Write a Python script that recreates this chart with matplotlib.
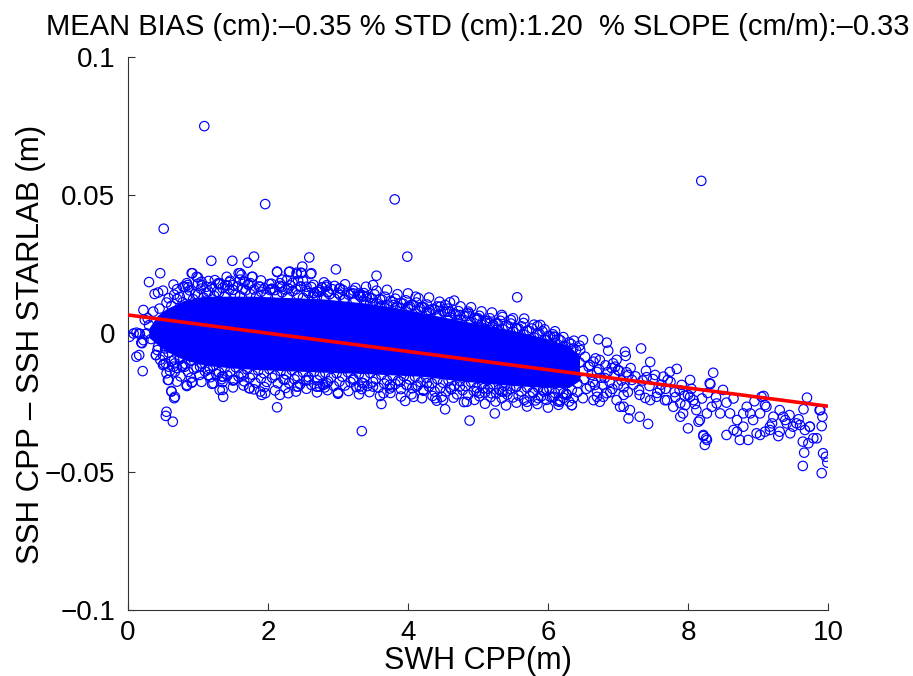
import matplotlib
matplotlib.use("Agg")
import matplotlib.pyplot as plt
import numpy as np

# ---------------- data (x: SWH in m, y: SSH difference in mm) ----------------
# envelope of the saturated (fully overlapping) core of the point cloud
core_x   = [0.30, 0.42, 0.55, 0.80, 1.10, 1.50, 1.80, 2.30, 2.80, 3.40, 3.80, 4.20, 4.70, 5.10, 5.60, 6.00, 6.30, 6.45]
core_top = [2.0, 6.5, 9.0, 12.0, 13.5, 13.5, 13.5, 13.0, 12.5, 11.0, 9.5, 7.5, 5.0, 3.0, 0.5, -2.0, -4.5, -8.0]
core_bot = [-1.5, -4.0, -6.5, -9.5, -11.5, -12.5, -13.0, -13.5, -14.0, -14.5, -15.0, -15.5, -17.0, -18.0, -19.0, -19.5, -19.5, -17.0]

# points along the upper rim of the core
rimu_x = [0.45, 0.55, 0.62, 0.70, 0.78, 0.85, 0.93, 1.00, 1.08, 1.15, 1.23, 1.30, 1.38, 1.45, 1.53, 1.60,
          1.68, 1.75, 1.83, 1.90, 1.98, 2.05, 2.13, 2.20, 2.28, 2.35, 2.43, 2.50, 2.58, 2.65, 2.73, 2.80,
          2.88, 2.95, 3.03, 3.10, 3.18, 3.25, 3.33, 3.40, 3.48, 3.55, 3.63, 3.70, 3.78, 3.85, 3.93, 4.00,
          4.08, 4.15, 4.23, 4.30, 4.38, 4.45, 4.53, 4.60, 4.68, 4.75, 4.83, 4.90, 4.98, 5.05, 5.13, 5.20,
          5.28, 5.35, 5.43, 5.50, 5.58, 5.65, 5.73, 5.80, 5.88, 5.95, 6.03, 6.10, 6.18, 6.25, 6.33, 6.40]
rimu_y = [9.0, 11.2, 10.0, 12.5, 11.3, 13.8, 12.4, 14.0, 13.0, 15.2, 13.6, 14.8, 13.4, 15.9, 14.1, 13.5,
          15.6, 14.2, 13.3, 15.1, 14.0, 16.0, 13.6, 14.9, 13.2, 15.3, 14.0, 12.9, 14.6, 13.4, 15.0, 12.8,
          14.2, 12.6, 13.9, 12.4, 14.5, 12.0, 13.1, 11.5, 12.7, 10.9, 12.2, 10.3, 11.4, 9.6, 10.8, 9.0,
          10.2, 8.1, 9.4, 7.5, 8.6, 6.7, 7.8, 5.9, 6.8, 5.0, 6.2, 4.1, 5.3, 3.2, 4.4, 2.4,
          3.5, 1.6, 2.5, 0.7, 1.8, -0.4, 0.9, -1.4, -0.2, -2.3, -1.0, -3.5, -2.5, -4.8, -3.8, -6.0]

# second, looser row above the upper rim
rimu2_x = [0.58, 0.66, 0.74, 0.88, 0.96, 1.04, 1.12, 1.20, 1.27, 1.35, 1.42, 1.50, 1.57, 1.64, 1.72, 1.80,
           1.87, 1.95, 2.02, 2.10, 2.17, 2.25, 2.32, 2.40, 2.47, 2.55, 2.62, 2.70, 2.77, 2.85, 2.92, 3.00,
           3.07, 3.15, 3.22, 3.30, 3.37, 3.45, 3.52, 3.60, 3.67, 3.75, 3.82, 3.90, 3.97, 4.05, 4.12, 4.20,
           4.27, 4.35, 4.42, 4.50, 4.57, 4.65, 4.72, 4.80, 4.87, 4.95, 5.02, 5.10, 5.17, 5.25, 5.32, 5.40,
           5.47, 5.55, 5.62, 5.70, 5.77, 5.85, 5.92, 6.00, 6.07, 6.15, 6.22, 6.30, 6.37, 6.45]
rimu2_y = [12.8, 14.0, 13.2, 15.6, 14.3, 16.2, 14.8, 16.9, 15.1, 16.4, 17.3, 15.8, 17.0, 16.1, 17.6, 15.9,
           17.0, 16.3, 17.9, 15.7, 17.2, 15.9, 17.4, 16.0, 17.0, 15.4, 16.8, 15.2, 16.6, 14.9, 16.0, 14.6,
           15.7, 14.1, 15.5, 13.8, 14.6, 13.0, 14.2, 12.4, 13.3, 11.8, 12.6, 11.0, 12.0, 10.4, 11.2, 9.6,
           10.5, 8.8, 9.8, 8.0, 9.0, 7.2, 8.1, 6.3, 7.2, 5.6, 6.4, 4.6, 5.5, 3.8, 4.6, 2.9,
           3.6, 2.0, 2.6, 1.0, 1.8, 0.1, 0.8, -0.9, -0.3, -2.0, -1.3, -3.2, -2.6, -4.4]

# third, sparse row above the core
rimu3_x = [0.70, 0.85, 1.00, 1.15, 1.30, 1.45, 1.60, 1.75, 1.90, 2.05, 2.20, 2.35, 2.50, 2.65, 2.80, 2.95,
           3.10, 3.25, 3.40, 3.55, 3.70, 3.85, 4.00, 4.15, 4.30, 4.45, 4.60, 4.75, 4.90, 5.05, 5.20, 5.35,
           5.50, 5.65, 5.80, 5.95, 6.10]
rimu3_y = [16.0, 17.5, 18.0, 19.0, 17.8, 18.6, 19.5, 18.2, 19.2, 18.0, 19.5, 18.3, 19.0, 17.6, 18.5, 17.2,
           17.8, 16.5, 16.9, 15.5, 15.8, 14.2, 14.5, 12.8, 13.0, 11.5, 11.3, 9.8, 9.5, 8.0, 7.6, 6.0,
           5.5, 3.8, 3.2, 1.5, 0.8]

# points along the lower rim of the core
riml_x = [0.42, 0.50, 0.58, 0.66, 0.74, 0.82, 0.90, 0.98, 1.06, 1.14, 1.22, 1.30, 1.38, 1.46, 1.54, 1.62,
          1.70, 1.78, 1.86, 1.94, 2.02, 2.10, 2.18, 2.26, 2.34, 2.42, 2.50, 2.58, 2.66, 2.74, 2.82, 2.90,
          2.98, 3.06, 3.14, 3.22, 3.30, 3.38, 3.46, 3.54, 3.62, 3.70, 3.78, 3.86, 3.94, 4.02, 4.10, 4.18,
          4.26, 4.34, 4.42, 4.50, 4.58, 4.66, 4.74, 4.82, 4.90, 4.98, 5.06, 5.14, 5.22, 5.30, 5.38, 5.46,
          5.54, 5.62, 5.70, 5.78, 5.86, 5.94, 6.02, 6.10, 6.18, 6.26, 6.34, 6.42]
riml_y = [-6.0, -7.8, -6.9, -9.5, -8.6, -11.0, -9.9, -12.4, -11.0, -13.1, -11.8, -14.0, -12.5, -13.8, -12.2, -14.6,
          -13.0, -15.0, -13.4, -14.4, -12.9, -15.2, -13.6, -14.8, -13.2, -15.5, -14.0, -15.8, -13.8, -15.0, -14.2, -16.0,
          -14.4, -15.6, -14.0, -16.3, -14.6, -15.8, -14.3, -16.5, -15.0, -16.9, -15.2, -17.0, -15.4, -16.6, -15.6, -17.6,
          -16.0, -18.0, -16.5, -17.8, -17.0, -18.9, -17.2, -19.0, -17.6, -19.6, -18.2, -20.0, -18.5, -20.3, -18.9, -20.0,
          -19.2, -21.0, -19.5, -21.2, -19.6, -21.0, -20.0, -21.5, -20.2, -21.8, -20.4, -21.2]

# second, looser row below the lower rim
riml2_x = [0.46, 0.54, 0.62, 0.70, 0.78, 0.86, 0.94, 1.02, 1.10, 1.18, 1.26, 1.34, 1.42, 1.50, 1.58, 1.66,
           1.74, 1.82, 1.90, 1.98, 2.06, 2.14, 2.22, 2.30, 2.38, 2.46, 2.54, 2.62, 2.70, 2.78, 2.86, 2.94,
           3.02, 3.10, 3.18, 3.26, 3.34, 3.42, 3.50, 3.58, 3.66, 3.74, 3.82, 3.90, 3.98, 4.06, 4.14, 4.22,
           4.30, 4.38, 4.46, 4.54, 4.62, 4.70, 4.78, 4.86, 4.94, 5.02, 5.10, 5.18, 5.26, 5.34, 5.42, 5.50,
           5.58, 5.66, 5.74, 5.82, 5.90, 5.98, 6.06, 6.14, 6.22, 6.30]
riml2_y = [-9.5, -10.8, -10.0, -12.5, -11.6, -13.9, -12.8, -15.0, -13.7, -15.8, -14.6, -16.5, -15.2, -17.0, -15.6, -17.3,
           -16.0, -17.8, -16.2, -17.5, -16.0, -18.0, -16.5, -17.9, -16.6, -18.4, -17.0, -18.6, -16.9, -18.2, -17.3, -19.0,
           -17.4, -18.8, -17.6, -19.3, -17.8, -19.0, -17.5, -19.6, -18.1, -19.9, -18.3, -20.1, -18.6, -19.8, -18.8, -20.7,
           -19.2, -21.0, -19.8, -21.0, -20.2, -22.0, -20.5, -22.2, -20.8, -22.7, -21.4, -23.0, -21.7, -23.4, -22.1, -23.1,
           -22.4, -24.0, -22.7, -24.2, -22.8, -24.0, -23.1, -24.5, -23.3, -24.6]

# third, sparse row below the core
riml3_x = [0.60, 0.75, 0.90, 1.05, 1.20, 1.35, 1.50, 1.65, 1.80, 1.95, 2.10, 2.25, 2.40, 2.55, 2.70, 2.85,
           3.00, 3.15, 3.30, 3.45, 3.60, 3.75, 3.90, 4.05, 4.20, 4.35, 4.50, 4.65, 4.80, 4.95, 5.10, 5.25,
           5.40, 5.55, 5.70, 5.85, 6.00, 6.15]
riml3_y = [-13.5, -15.5, -16.0, -17.5, -18.2, -17.6, -19.5, -18.8, -20.2, -19.4, -20.6, -19.7, -21.0, -20.0, -21.3, -20.5,
           -21.8, -20.8, -22.0, -21.2, -22.6, -21.5, -22.8, -22.0, -23.4, -22.6, -24.0, -23.2, -24.8, -24.0, -25.4, -24.6,
           -26.0, -25.0, -26.4, -25.5, -26.8, -25.8]

# low-wave-height end of the cloud
left_x = [0.02, 0.08, 0.16, 0.27, 0.22, 0.20, 0.22, 0.36, 0.24, 0.12, 0.16, 0.40, 0.21, 0.12, 0.17, 0.25,
          0.19, 0.43, 0.53, 0.30, 0.33, 0.28]
left_y = [-1.2, 0.0, 0.0, 0.0, -2.4, -3.5, 8.5, 7.9, 4.9, -8.4, -7.8, -7.8, -13.6, 0.3, -0.2, -0.2,
          -3.3, -4.8, -5.4, 3.0, -2.0, 5.5]

# scattered points above the core
up_x = [1.09, 1.96, 0.51, 3.81, 8.19, 1.19, 1.49, 1.80, 1.71, 2.59, 0.46, 0.30, 0.65, 0.92, 1.00, 0.38,
        0.43, 0.50, 1.24, 1.58, 1.62, 1.78, 1.46, 1.65, 1.72, 2.13, 2.30, 2.41, 2.49, 2.47, 2.61, 2.43,
        2.46, 0.81, 0.86, 1.06, 1.29, 1.39, 2.05, 2.20, 2.29, 2.66, 2.77, 2.97, 3.99, 3.55, 3.50, 2.83,
        3.02, 2.86, 3.29, 3.36, 4.11, 4.53, 4.66, 5.56, 2.65, 2.70, 3.08, 3.50, 3.62, 3.84, 4.03, 4.20,
        5.34, 5.47, 5.66, 5.55, 5.85, 4.84, 4.98, 4.70, 4.56, 4.41, 4.31, 5.17, 5.27, 5.08,
        0.79, 0.84, 0.91, 0.98, 1.05, 1.12, 1.31, 1.41, 1.50, 1.60, 1.67, 1.77, 1.89, 2.03, 2.17, 2.27,
        2.55, 2.74, 2.84, 3.03, 3.22, 3.31, 3.41, 3.46, 3.60, 3.79, 3.89, 4.00, 4.17, 4.27, 4.46, 4.60,
        4.74, 4.86, 5.00, 5.12, 5.22, 2.31, 2.41, 2.48, 2.62, 2.13]
up_y = [75.0, 46.8, 37.9, 48.5, 55.2, 26.3, 26.3, 27.8, 25.6, 27.5, 21.8, 18.6, 17.7, 21.8, 20.3, 14.3,
        14.8, 15.5, 19.3, 21.8, 21.2, 20.5, 19.1, 18.7, 17.9, 22.2, 22.2, 21.5, 24.2, 22.0, 21.5, 19.1,
        16.9, 16.9, 16.7, 17.5, 18.2, 17.5, 16.2, 16.9, 16.3, 14.8, 16.7, 23.2, 27.8, 20.9, 17.5, 16.9,
        16.3, 15.1, 14.5, 13.6, 13.3, 10.3, 11.9, 13.1, 14.5, 13.3, 12.1, 10.9, 9.9, 9.7, 9.7, 9.5,
        6.7, 4.9, 5.4, 1.7, 2.7, 7.3, 4.9, 4.9, 7.9, 6.1, 8.5, 3.7, 1.3, 1.9,
        16.9, 18.2, 21.8, 20.5, 18.7, 16.9, 18.2, 20.5, 17.5, 21.8, 18.7, 20.5, 16.9, 15.7, 18.2, 19.3,
        16.9, 15.7, 17.5, 16.3, 14.5, 13.9, 13.3, 10.9, 9.7, 10.3, 9.1, 9.7, 9.1, 7.9, 9.7, 7.9,
        6.7, 7.9, 5.5, 3.7, 3.1, 22.4, 22.0, 21.8, 21.8, 22.4]

# scattered points below the core
lo_x = [0.50, 0.65, 0.55, 0.67, 0.77, 0.84, 0.91, 0.58, 0.62, 0.67, 0.55, 0.54, 0.64, 2.13, 3.34, 1.03,
        1.17, 1.36, 1.31, 1.36, 1.50, 1.74, 1.89, 1.96, 2.17, 2.29, 2.41, 2.55, 2.74, 2.84, 3.00, 3.31,
        0.40, 0.51, 0.58, 0.67, 0.74, 0.81, 0.57, 0.70, 0.62, 0.66, 0.84, 0.92, 1.15, 1.22, 1.35, 1.34,
        1.52, 1.73, 1.65, 1.91, 2.24, 2.43, 2.58, 2.70, 2.79, 3.34, 3.62, 3.65, 3.96, 4.08, 4.39, 4.41,
        4.53, 4.84, 4.88, 4.48, 5.02, 5.19, 5.24, 5.34, 5.70, 5.86, 6.03, 6.17, 6.34, 6.50, 6.70, 2.70,
        2.81, 3.00, 3.77, 3.98, 4.22, 4.60, 5.08, 5.36, 5.55, 5.93, 3.22, 3.36, 3.50, 3.74, 3.89, 4.12,
        4.27, 4.74, 4.98, 5.17, 5.41, 5.79, 6.27]
lo_y = [-11.4, -12.0, -14.4, -13.8, -12.0, -18.6, -17.8, -16.8, -21.0, -22.9, -28.3, -29.8, -31.9, -26.7, -35.3, -12.0,
        -12.6, -15.6, -20.4, -22.9, -16.8, -19.8, -21.0, -21.6, -22.2, -21.6, -19.2, -16.8, -19.2, -18.0, -21.4, -19.2,
        -7.8, -11.0, -12.0, -10.8, -9.3, -12.0, -16.8, -17.4, -20.8, -23.4, -19.0, -17.5, -15.0, -18.0, -20.4, -15.6,
        -16.8, -19.8, -15.0, -22.2, -16.8, -19.2, -16.8, -19.2, -18.6, -20.1, -25.5, -21.6, -24.4, -22.9, -23.4, -24.3,
        -27.4, -24.7, -31.5, -22.9, -21.6, -21.6, -28.9, -21.0, -24.7, -23.4, -22.9, -24.1, -25.9, -23.4, -22.9, -19.2,
        -19.5, -21.4, -19.2, -18.6, -20.4, -19.5, -19.8, -21.0, -19.2, -20.4, -16.8, -18.0, -19.2, -18.6, -17.4, -19.2,
        -18.0, -19.2, -21.0, -19.2, -21.0, -21.6, -22.2]

# high-wave-height tail
tail_x = [5.89, 6.08, 6.50, 6.72, 6.84, 6.86, 7.10, 7.11, 7.33, 7.84, 7.65, 7.41, 6.34, 6.17, 6.74, 7.03,
          7.15, 7.31, 7.43, 7.89, 8.15, 8.22, 8.27, 7.17, 6.93, 7.15, 8.36, 8.31, 8.50, 9.05, 9.70, 9.89,
          9.92, 9.91, 8.22, 8.26, 8.55, 8.70, 8.74, 8.86, 8.98, 9.10, 9.31, 9.46, 9.60, 9.67, 9.74, 9.64,
          9.72, 9.79, 9.66, 9.64, 9.91, 9.93, 9.97, 9.99, 7.31, 7.46, 7.55, 7.70, 7.79, 7.89, 7.93, 8.08,
          8.12, 8.17, 8.27, 8.34, 8.46, 8.60, 8.70, 8.79, 8.93, 9.03, 9.12, 9.22, 9.36, 9.41, 9.50, 9.74,
          9.31, 8.84, 7.08, 6.79, 6.65, 6.60, 8.32, 9.65, 9.88, 9.08, 9.10, 8.65, 9.03, 9.17, 9.29, 9.84,
          8.03, 8.41, 8.89, 9.39, 9.55, 9.17, 8.79, 6.60, 6.70, 6.81, 6.91, 7.00, 7.20, 7.53, 7.60, 7.71,
          7.81, 7.91, 8.00, 6.67, 6.89, 7.14, 7.39, 7.67, 7.96, 6.74, 7.46, 7.74, 8.03, 5.98, 6.10, 6.22,
          6.27, 6.36, 6.46, 6.53, 6.65, 6.96, 7.00, 5.98, 6.08, 6.22, 6.36, 6.84, 6.98, 7.08, 8.00, 8.24,
          6.30, 6.35, 6.38, 6.42, 6.45, 6.50, 6.52, 6.55, 6.58, 6.62, 6.64, 6.68, 6.70, 6.73, 6.76, 6.78,
          6.82, 6.85, 6.88, 6.92, 6.95, 6.98, 7.02, 7.05, 7.08, 7.12, 7.18, 7.22, 7.25, 7.30, 7.35, 7.40,
          7.45, 7.50, 7.56, 7.62, 7.68, 7.75, 7.82, 7.88, 7.95, 8.05, 8.10, 8.20, 8.28, 8.40, 8.55, 8.65,
          8.95, 9.20, 9.45, 9.58]
tail_y = [3.1, -1.2, -2.4, -2.1, -3.3, -6.2, -6.6, -8.1, -5.4, -12.8, -15.6, -15.8, -25.9, -24.7, -24.7, -26.5,
          -30.7, -30.1, -32.7, -30.1, -31.9, -36.7, -38.5, -27.7, -10.8, -15.0, -14.2, -18.0, -20.4, -22.9, -23.2, -27.7,
          -30.1, -33.5, -37.1, -37.9, -36.7, -35.5, -38.5, -38.5, -36.1, -35.5, -35.5, -36.1, -33.1, -34.9, -33.7, -39.1,
          -39.7, -37.9, -43.1, -47.9, -50.5, -43.3, -44.6, -46.7, -22.2, -24.1, -22.9, -24.1, -26.5, -25.2, -28.9, -24.1,
          -27.7, -31.3, -28.9, -26.5, -28.9, -28.9, -31.3, -28.9, -31.3, -28.9, -26.5, -30.1, -30.1, -32.5, -33.7, -33.7,
          -27.7, -26.5, -26.5, -22.9, -24.1, -19.2, -18.3, -27.4, -27.7, -22.6, -25.9, -34.9, -36.7, -34.9, -37.1, -37.9,
          -22.9, -25.3, -28.9, -31.3, -32.5, -33.7, -33.7, -11.4, -13.9, -16.1, -12.5, -18.6, -16.8, -15.0, -20.4, -16.8,
          -21.2, -18.6, -22.2, -18.6, -21.2, -21.2, -23.3, -24.1, -25.9, -9.6, -10.3, -13.9, -16.8, -2.4, -1.2, -4.8,
          -6.6, -5.4, -6.0, -8.4, -10.2, -12.0, -13.2, -20.4, -22.9, -21.6, -23.4, -21.6, -24.1, -22.2, -34.3, -40.3,
          -9.0, -12.0, -15.5, -18.0, -10.5, -13.5, -16.5, -20.0, -12.0, -15.0, -17.5, -9.0, -21.0, -13.0, -16.0, -18.5,
          -11.5, -14.0, -17.5, -20.0, -15.0, -9.5, -13.5, -17.0, -19.5, -14.0, -12.5, -18.5, -15.5, -20.5, -17.0, -13.5,
          -19.0, -16.5, -21.5, -18.5, -20.0, -17.5, -23.0, -20.5, -22.5, -20.0, -25.5, -23.5, -21.5, -23.0, -25.0, -23.5,
          -24.5, -32.5, -29.5, -31.0]

# linear fit (m, m)
fit_x = [0.0, 10.0]
fit_y = [0.0067, -0.0263]

title_text = "MEAN BIAS (cm):\u20130.35 % STD (cm):1.20  % SLOPE (cm/m):\u20130.33"
xticks = [0, 2, 4, 6, 8, 10]
yticks = [-0.1, -0.05, 0.0, 0.05, 0.1]
ytick_labels = ["\u22120.1", "\u22120.05", "0", "0.05", "0.1"]

# ---------------- plot ----------------
plt.rcParams['font.family'] = ['Liberation Sans', 'DejaVu Sans']
W, H = 913, 676
fig = plt.figure(figsize=(W / 100, H / 100), dpi=100)
ax = fig.add_axes([128 / W, 1 - 610 / H, 700 / W, 553 / H])

mm = 1000.0
ax.fill_between(core_x, np.array(core_bot) / mm, np.array(core_top) / mm,
                color=(0, 0, 1), lw=0, zorder=2)

px = np.concatenate([rimu_x, rimu2_x, rimu3_x, riml_x, riml2_x, riml3_x, left_x, up_x, lo_x, tail_x])
py = np.concatenate([rimu_y, rimu2_y, rimu3_y, riml_y, riml2_y, riml3_y, left_y, up_y, lo_y, tail_y]) / mm
ax.scatter(px, py, s=46, facecolors='none', edgecolors=(0, 0, 1), linewidths=0.85, zorder=3)

ax.plot(fit_x, fit_y, color=(1, 0, 0), lw=2.6, zorder=4, solid_capstyle='butt')

ax.set_xlim(0, 10)
ax.set_ylim(-0.1, 0.1)
ax.set_xticks(xticks)
ax.set_xticklabels([str(t) for t in xticks])
ax.set_yticks(yticks)
ax.set_yticklabels(ytick_labels)
ax.tick_params(direction='in', length=5, width=0.8, labelsize=20, color='#333333')
ax.tick_params(axis='x', pad=7)
ax.tick_params(axis='y', pad=9)
for s in ['top', 'right']:
    ax.spines[s].set_visible(False)
for s in ['left', 'bottom']:
    ax.spines[s].set_linewidth(0.8)
    ax.spines[s].set_color('#333333')

ax.set_xlabel("SWH CPP(m)", fontsize=22)
ax.xaxis.set_label_coords(0.5, -0.066)
ax.set_ylabel("SSH CPP \u2013 SSH STARLAB (m)", fontsize=22.5)
ax.yaxis.set_label_coords(-0.117, 0.48)
ax.set_title(title_text, fontsize=21, pad=16)

fig.savefig("out.png", dpi=100)
